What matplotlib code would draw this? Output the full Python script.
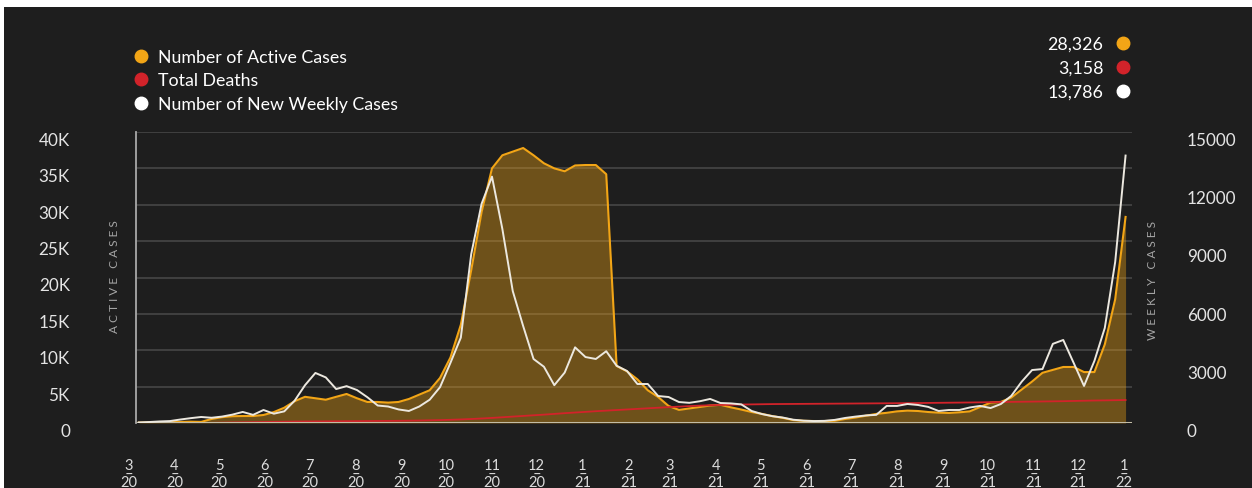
import matplotlib
matplotlib.use('Agg')
import matplotlib.pyplot as plt
import matplotlib.dates as mdates
from matplotlib.lines import Line2D
from matplotlib.patches import Rectangle
import numpy as np
import pandas as pd

plt.rcParams['font.family'] = ['Lato', 'DejaVu Sans']

# weekly data, first week 2020-03-08
first_week = '2020-03-08'
active_cases = [
    50, 80, 100, 130, 150, 180, 150, 550, 800, 930,
    960, 960, 1100, 1500, 2100, 3000, 3600, 3400, 3200, 3600,
    3990, 3400, 2890, 2890, 2800, 2890, 3300, 3900, 4500, 6200,
    9000, 13500, 21000, 29000, 35000, 36800, 37300, 37800, 36800, 35700,
    35000, 34600, 35400, 35460, 35460, 34200, 7840, 7100, 6000, 4500,
    3570, 2340, 1800, 2000, 2200, 2400, 2500, 2150, 1850, 1510,
    1250, 950, 700, 400, 300, 270, 270, 300, 550, 750,
    1000, 1250, 1400, 1600, 1700, 1650, 1510, 1420, 1380, 1470,
    1600, 2200, 2800, 2900, 3500, 4600, 5700, 6900, 7300, 7700,
    7700, 7000, 7000, 10800, 17000, 28326]
weekly_cases = [
    30, 50, 80, 100, 180, 250, 310, 270, 330, 430,
    570, 420, 670, 480, 600, 1150, 1950, 2580, 2350, 1750,
    1900, 1700, 1330, 900, 850, 700, 620, 850, 1200, 1850,
    3100, 4400, 8700, 11300, 12700, 10000, 6800, 5000, 3300, 2900,
    1950, 2600, 3900, 3400, 3300, 3700, 2950, 2680, 2010, 2010,
    1390, 1340, 1080, 1040, 1120, 1240, 1030, 1010, 960, 620,
    460, 350, 280, 170, 120, 100, 110, 160, 260, 330,
    390, 420, 880, 880, 980, 930, 830, 620, 670, 670,
    800, 880, 770, 980, 1400, 2130, 2730, 2780, 4080, 4280,
    3100, 1910, 3200, 4900, 8300, 13786]
total_deaths = [
    None, None, None, None, None, None, 0, 20, 50, 80,
    100, 120, 140, 160, 180, 200, 210, 220, 230, 240,
    250, 260, 270, 280, 290, 300, 320, 340, 370, 400,
    440, 490, 550, 620, 700, 790, 880, 970, 1060, 1150,
    1250, 1350, 1440, 1530, 1620, 1700, 1780, 1860, 1940, 2020,
    2100, 2180, 2250, 2320, 2390, 2440, 2480, 2510, 2540, 2560,
    2580, 2600, 2610, 2620, 2630, 2640, 2650, 2660, 2670, 2680,
    2690, 2700, 2710, 2720, 2730, 2745, 2760, 2775, 2790, 2805,
    2820, 2840, 2860, 2880, 2900, 2920, 2940, 2960, 2980, 3000,
    3030, 3060, 3090, 3110, 3135, 3158]

left_ticks = [0, 5000, 10000, 15000, 20000, 25000, 30000, 35000, 40000]
left_labels = ['0', '5K', '10K', '15K', '20K', '25K', '30K', '35K', '40K']
right_ticks = [0, 3000, 6000, 9000, 12000, 15000]
series_names = ['Number of Active Cases', 'Total Deaths', 'Number of New Weekly Cases']

BG = '#1e1e1e'
ORANGE = '#f2a516'
RED = '#d2232a'
WHITE = '#ece8df'
GRID = '#404040'

dates = pd.date_range(first_week, periods=len(active_cases), freq='7D')
active = np.array(active_cases, dtype=float)
weekly = np.array(weekly_cases, dtype=float)
deaths = np.array([np.nan if v is None else v for v in total_deaths], dtype=float)
months = pd.date_range('2020-03-01', '2022-01-01', freq='MS')

fig = plt.figure(figsize=(12.52, 4.89), dpi=100)
fig.patch.set_facecolor('white')
fig.add_artist(Rectangle((4 / 1252, 0), 1, 1 - 8 / 489, transform=fig.transFigure,
                         facecolor=BG, edgecolor='none', zorder=-10))

ax = fig.add_axes([124 / 1252, 65 / 489, 1008 / 1252, 291 / 489])
ax.set_facecolor('none')
ax2 = ax.twinx()
ax2.set_facecolor('none')

x_left = pd.Timestamp('2020-02-27')
x_right = pd.Timestamp('2022-01-06 08:00')
plot_start = dates[0] - pd.Timedelta(days=2)

ax.set_xlim(x_left, x_right)
ax.set_ylim(0, 40000)
ax2.set_ylim(0, 15000)

# grid and baseline
ax.hlines(left_ticks[1:], plot_start, x_right, colors=GRID, lw=1.4, zorder=0.5)
ax.hlines(0, plot_start, x_right, colors='#c2bca6', lw=2.2, zorder=4)

ax.fill_between(dates, active, 0, color=ORANGE, alpha=0.38, lw=0, zorder=1)
ax.plot(dates, active, color=ORANGE, lw=1.5, zorder=2)
ax.plot(dates, deaths, color=RED, lw=1.3, zorder=3)
ax2.plot(dates, weekly, color=WHITE, lw=1.4, zorder=3)

for a in (ax, ax2):
    for s in a.spines.values():
        s.set_visible(False)
ax.spines['left'].set_visible(True)
ax.spines['left'].set_position(('data', mdates.date2num(plot_start)))
ax.spines['left'].set_color('#a8a8a8')
ax.spines['left'].set_linewidth(1.3)

ax.set_yticks(left_ticks, left_labels)
ax2.set_yticks(right_ticks, [str(v) for v in right_ticks])
ax.tick_params(axis='y', length=0, pad=47.5, labelsize=12.3, labelcolor='#e4e4e4')
ax2.tick_params(axis='y', length=0, pad=39.5, labelsize=12.3, labelcolor='#e4e4e4')
for lab in ax.get_yticklabels() + ax2.get_yticklabels():
    lab.set_verticalalignment('top')

ax.set_xticks(months, [f"{d.month}\n\u2013\n{d.strftime('%y')}" for d in months])
ax.tick_params(axis='x', length=0, pad=25.5, labelsize=10.5, labelcolor='#dcdcdc')
for lab in ax.get_xticklabels():
    lab.set_linespacing(0.5)
    lab.set_multialignment('center')

fig.text(115 / 1252, 1 - 277 / 489, 'A C T I V E   C A S E S', rotation=90,
         ha='center', va='center', fontsize=8.6, color='#a5a5a5')
fig.text(1152 / 1252, 1 - 280 / 489, 'W E E K L Y   C A S E S', rotation=90,
         ha='center', va='center', fontsize=8.6, color='#a5a5a5')

colors = [ORANGE, RED, 'white']
handles = [Line2D([0], [0], marker='o', ls='none', markersize=9,
                  markerfacecolor=c, markeredgecolor=c) for c in colors]
fig.legend(handles, series_names, loc='upper left',
           bbox_to_anchor=(134 / 1252, 1 - 50 / 489), frameon=False,
           fontsize=12.8, labelcolor='white', handlelength=0.75,
           handletextpad=0.6, labelspacing=0.42, borderpad=0, borderaxespad=0)

last_values = [f"{int(active[-1]):,}", f"{int(deaths[-1]):,}", f"{int(weekly[-1]):,}"]
fig.legend(handles, last_values, loc='upper right', markerfirst=False,
           bbox_to_anchor=(1130 / 1252, 1 - 37 / 489), frameon=False,
           fontsize=12.8, labelcolor='white', handlelength=0.75,
           handletextpad=0.75, labelspacing=0.45, borderpad=0, borderaxespad=0)

fig.savefig('out.png', dpi=100, facecolor=fig.get_facecolor())
